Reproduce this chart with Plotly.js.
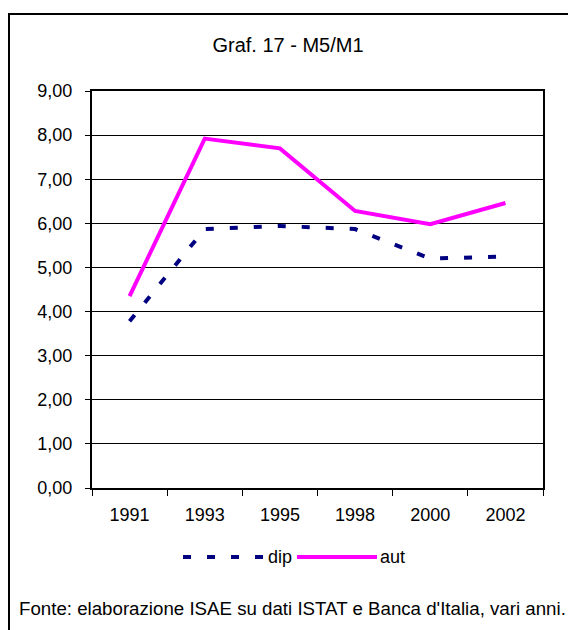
<!DOCTYPE html>
<html>
<head>
<meta charset="utf-8">
<script src="https://cdn.plot.ly/plotly-3.0.1.min.js"></script>
<style>
html,body{margin:0;padding:0;background:#fff;}
#frame{position:absolute;left:8px;top:13px;width:600px;height:700px;border:2px solid #000;box-sizing:border-box;}
#chart{position:absolute;left:0;top:0;width:568px;height:630px;}
</style>
</head>
<body>
<div id="frame"></div>
<div id="chart"></div>
<script>
const years = ["1991", "1993", "1995", "1998", "2000", "2002"];
const dip = [3.78, 5.87, 5.94, 5.87, 5.20, 5.25];
const aut = [4.35, 7.92, 7.70, 6.28, 5.98, 6.46];
const yTicks = [0, 1, 2, 3, 4, 5, 6, 7, 8, 9];

const L = 92, R = 543, T = 91, B = 488, W = 568, H = 630;
const px = x => (x - L) / (R - L);
const py = y => (B - y) / (B - T);

const traces = [
  {x: years, y: dip, name: "dip", type: "scatter", mode: "lines",
   line: {color: "#000080", width: 4, dash: "8px,16px"}, showlegend: false},
  {x: years, y: aut, name: "aut", type: "scatter", mode: "lines",
   line: {color: "#FF00FF", width: 4}, showlegend: false}
];

const layout = {
  width: W, height: H,
  margin: {l: L, r: W - R, t: T, b: H - B, pad: 0},
  paper_bgcolor: "rgba(0,0,0,0)",
  plot_bgcolor: "#fff",
  separators: ",.",
  font: {family: "Liberation Sans, Arial, sans-serif", size: 18, color: "#000"},
  title: {text: "Graf. 17 - M5/M1", font: {size: 20, color: "#000"},
          x: 288 / W, xanchor: "center", y: 1 - 45 / H, yanchor: "middle"},
  xaxis: {type: "category", range: [-0.5, 5.5], tickson: "boundaries",
          ticks: "outside", ticklen: 6, tickcolor: "#000", tickwidth: 1,
          showline: true, linecolor: "#000", linewidth: 2, mirror: true,
          showgrid: false, ticklabelstandoff: 9, fixedrange: true,
          tickfont: {size: 18}},
  yaxis: {range: [0, 9], tickvals: yTicks, tickformat: ".2f",
          ticks: "outside", ticklen: 5, tickcolor: "#000", tickwidth: 1,
          showline: true, linecolor: "#000", linewidth: 2, mirror: true,
          showgrid: true, gridcolor: "#000", gridwidth: 1, zeroline: false,
          ticklabelstandoff: 9, fixedrange: true, tickfont: {size: 18}},
  shapes: [
    {type: "line", xref: "paper", yref: "paper", x0: px(183), x1: px(265), y0: py(557), y1: py(557),
     line: {color: "#000080", width: 4, dash: "8px,16px"}},
    {type: "line", xref: "paper", yref: "paper", x0: px(297), x1: px(377), y0: py(557), y1: py(557),
     line: {color: "#FF00FF", width: 4}}
  ],
  annotations: [
    {text: "dip", xref: "paper", yref: "paper", x: px(266), y: py(557), xanchor: "left", yanchor: "middle",
     showarrow: false, font: {size: 18}},
    {text: "aut", xref: "paper", yref: "paper", x: px(378), y: py(557), xanchor: "left", yanchor: "middle",
     showarrow: false, font: {size: 18}},
    {text: "Fonte: elaborazione ISAE su dati ISTAT e Banca d'Italia, vari anni.", xref: "paper", yref: "paper",
     x: px(17), y: py(608), xanchor: "left", yanchor: "middle", showarrow: false, font: {size: 18.7}}
  ]
};

Plotly.newPlot("chart", traces, layout, {displayModeBar: false, staticPlot: true});
</script>
</body>
</html>
